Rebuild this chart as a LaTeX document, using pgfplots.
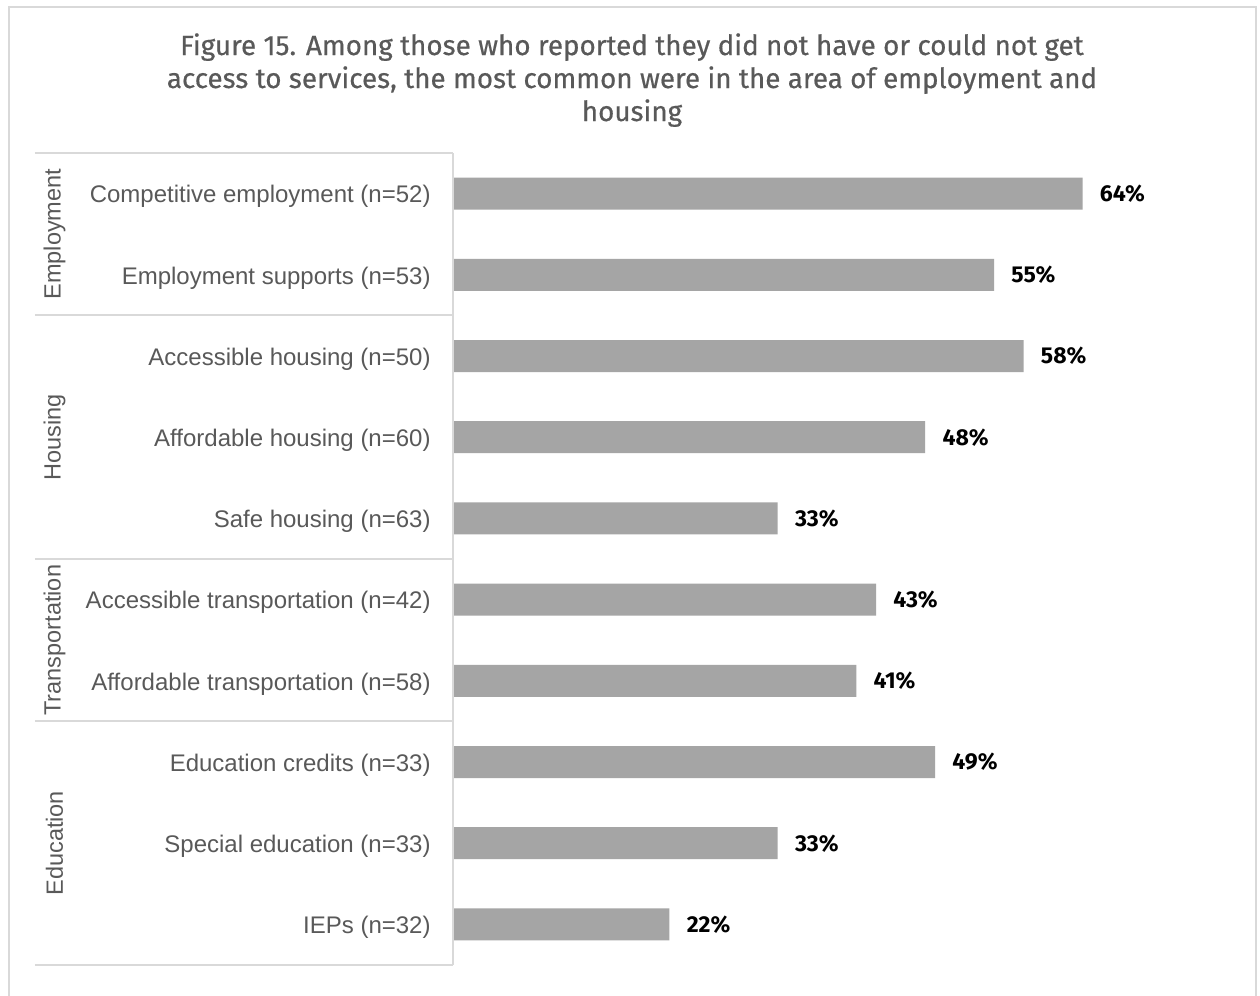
\documentclass[border=0pt]{standalone}
\usepackage{fontspec}
\setmainfont{Liberation Sans}
\newfontfamily\titlefont[FakeBold=0.5]{Fira Sans}
\newfontfamily\labfont{Fira Sans}
\usepackage{pgfplots}
\pgfplotsset{compat=1.18}
\definecolor{txt}{HTML}{595959}
\definecolor{barc}{HTML}{A5A5A5}
\definecolor{linec}{HTML}{D9D9D9}
\begin{document}
\begin{tikzpicture}
\useasboundingbox (0,0) rectangle (630pt,-498pt);
\clip (0,0) rectangle (630pt,-498pt);
\fill[white] (0,0) rectangle (630pt,-498pt);
\draw[linec, line width=1pt] (4.5pt,-3.5pt) rectangle (628pt,-520pt);
\node[font=\titlefont\fontsize{13.9pt}{16.5pt}\selectfont, text=txt, align=center, anchor=base] at (316pt,-60.5pt)
  {Figure 15. Among those who reported they did not have or could not get\\
   access to services, the most common were in the area of employment and\\
   housing};
\begin{axis}[
  at={(226.5pt,-76.5pt)}, anchor=north west,
  scale only axis, width=393.5pt, height=406pt,
  xmin=0, xmax=80, ymin=0.5, ymax=10.5, y dir=reverse,
  xbar, bar width=16pt,
  axis line style={draw=none},
  xtick=\empty,
  ytick={1,2,3,4,5,6,7,8,9,10},
  yticklabels={Competitive employment (n=52), Employment supports (n=53), Accessible housing (n=50), Affordable housing (n=60), Safe housing (n=63), Accessible transportation (n=42), Affordable transportation (n=58), Education credits (n=33), Special education (n=33), IEPs (n=32)},
  major tick length=0pt,
  yticklabel style={font=\fontsize{12pt}{14pt}\selectfont, text=txt, inner sep=0pt, xshift=-11pt, yshift=-1.5pt},
  clip=false,
  point meta=x,
  nodes near coords={\pgfmathprintnumber[assume math mode=true]{\pgfplotspointmeta}\%},
  nodes near coords style={font=\labfont\bfseries\fontsize{11.5pt}{13pt}\selectfont, text=black, anchor=west, inner sep=0pt, xshift=8.5pt},
]
\addplot[fill=barc, draw=none] coordinates {
(64,1) (55,2) (58,3) (48,4) (33,5) (43,6) (41,7) (49,8) (33,9) (22,10)};
\draw[linec, line width=1pt] (axis cs:0,0.5) -- (axis cs:0,10.5);
\draw[linec, line width=1pt] (axis cs:-42.5,0.5) -- (axis cs:0,0.5);
\draw[linec, line width=1pt] (axis cs:-42.5,2.5) -- (axis cs:0,2.5);
\draw[linec, line width=1pt] (axis cs:-42.5,5.5) -- (axis cs:0,5.5);
\draw[linec, line width=1pt] (axis cs:-42.5,7.5) -- (axis cs:0,7.5);
\draw[linec, line width=1pt] (axis cs:-42.5,10.5) -- (axis cs:0,10.5);
\node[rotate=90, text=txt, font=\fontsize{11.75pt}{14pt}\selectfont] at (axis cs:-40.5,1.5) {Employment};
\node[rotate=90, text=txt, font=\fontsize{11.75pt}{14pt}\selectfont] at (axis cs:-40.5,4) {Housing};
\node[rotate=90, text=txt, font=\fontsize{11.75pt}{14pt}\selectfont] at (axis cs:-40.5,6.5) {Transportation};
\node[rotate=90, text=txt, font=\fontsize{11.75pt}{14pt}\selectfont] at (axis cs:-40.5,9) {Education};
\end{axis}
\end{tikzpicture}
\end{document}
